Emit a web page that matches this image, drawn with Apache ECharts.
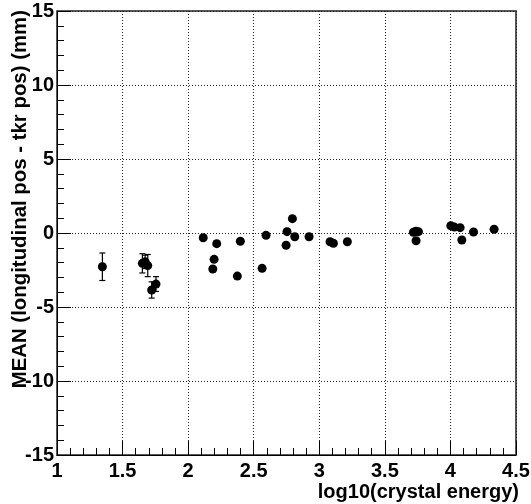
<!DOCTYPE html>
<html>
<head>
<meta charset="utf-8">
<script src="https://cdn.jsdelivr.net/npm/echarts@6/dist/echarts.min.js"></script>
<style>html,body{margin:0;padding:0;background:#fff}#c{width:531px;height:504px}</style>
</head>
<body>
<div id="c"></div>
<script>
// log10(crystal energy)
var xs = [1.346, 1.651, 1.672, 1.692, 1.722, 1.755,
          2.115, 2.218, 2.198, 2.188, 2.398, 2.375, 2.594, 2.564,
          2.795, 2.754, 2.813, 2.747, 2.922, 3.082, 3.108, 3.214,
          3.718, 3.736, 3.756, 3.738, 4.003, 4.030, 4.074, 4.087, 4.176, 4.333];
// MEAN (longitudinal pos - tkr pos) (mm)
var ys = [-2.28, -2.05, -1.95, -2.20, -3.85, -3.45,
          -0.32, -0.72, -1.78, -2.43, -0.56, -2.91, -0.16, -2.39,
          0.97, 0.09, -0.25, -0.83, -0.25, -0.59, -0.70, -0.59,
          0.05, 0.12, 0.09, -0.52, 0.49, 0.40, 0.36, -0.47, 0.07, 0.25];
// error on the mean (mm)
var errs = [0.93, 0.65, 0.45, 0.75, 0.55, 0.50,
            0.15, 0.15, 0.15, 0.15, 0.15, 0.15, 0.15, 0.15,
            0.15, 0.15, 0.15, 0.15, 0.15, 0.15, 0.15, 0.15,
            0.12, 0.12, 0.12, 0.12, 0.12, 0.12, 0.12, 0.12, 0.12, 0.12];
var xTickLabels = ['1', '1.5', '2', '2.5', '3', '3.5', '4', '4.5'];
var yTickLabels = ['-15', '-10', '-5', '0', '5', '10', '15'];
var xTitle = 'log10(crystal energy)';
var yTitle = 'MEAN (longitudinal pos - tkr pos) (mm)';

var points = xs.map(function (x, i) { return [x, ys[i]]; });
var errData = xs.map(function (x, i) { return [x, ys[i] - errs[i], ys[i] + errs[i]]; });

var FONT = '"Liberation Sans", Arial, sans-serif';
var chart = echarts.init(document.getElementById('c'), null, {renderer: 'canvas'});
var grid = {left: 57, right: 15, top: 11, bottom: 49, show: true,
            borderColor: '#222', borderWidth: 1.5, backgroundColor: '#fff',
            containLabel: false, outerBoundsMode: 'none'};
var dotted = {show: true, lineStyle: {color: '#222', width: 1, type: [1, 2]}};
chart.setOption({
  animation: false,
  grid: grid,
  xAxis: {
    type: 'value', min: 1, max: 4.5, interval: 0.5,
    axisLine: {show: true, onZero: false, lineStyle: {color: '#000', width: 1}},
    axisTick: {show: true, inside: true, length: 14, lineStyle: {color: '#000'}},
    minorTick: {show: true, splitNumber: 5, length: 7, lineStyle: {color: '#000'}},
    splitLine: dotted,
    axisLabel: {margin: 6, fontFamily: FONT, fontWeight: 'bold', fontSize: 20, color: '#000',
      formatter: function (v) { var i = Math.round((v - 1) / 0.5); return xTickLabels[i] || ''; }}
  },
  yAxis: {
    type: 'value', min: -15, max: 15, interval: 5,
    axisLine: {show: true, onZero: false, lineStyle: {color: '#000', width: 1}},
    axisTick: {show: true, inside: true, length: 14, lineStyle: {color: '#000'}},
    minorTick: {show: true, splitNumber: 5, length: 7, lineStyle: {color: '#000'}},
    splitLine: dotted,
    axisLabel: {margin: 3, fontFamily: FONT, fontWeight: 'bold', fontSize: 20, color: '#000',
      formatter: function (v) { var i = Math.round((v + 15) / 5); return yTickLabels[i] || ''; }}
  },
  graphic: [
    {type: 'text', x: 519, y: 492, z: 10,
     style: {text: xTitle, font: 'bold 20px ' + FONT, fill: '#000',
             textAlign: 'right', textVerticalAlign: 'middle'}},
    {type: 'text', x: 20, y: 10, rotation: Math.PI / 2, z: 10,
     style: {text: yTitle, font: 'bold 20.4px ' + FONT, fill: '#000',
             textAlign: 'right', textVerticalAlign: 'middle'}}
  ],
  series: [
    {
      type: 'custom', data: errData, z: 3,
      renderItem: function (params, api) {
        var x = api.value(0);
        var lo = api.coord([x, api.value(1)]);
        var hi = api.coord([x, api.value(2)]);
        var cw = 3;
        var st = {stroke: '#000', lineWidth: 1.2};
        return {type: 'group', children: [
          {type: 'line', shape: {x1: lo[0], y1: lo[1], x2: hi[0], y2: hi[1]}, style: st},
          {type: 'line', shape: {x1: lo[0] - cw, y1: lo[1], x2: lo[0] + cw, y2: lo[1]}, style: st},
          {type: 'line', shape: {x1: hi[0] - cw, y1: hi[1], x2: hi[0] + cw, y2: hi[1]}, style: st}
        ]};
      }
    },
    {
      type: 'scatter', data: points, symbol: 'circle', symbolSize: 9, z: 4,
      itemStyle: {color: '#000', opacity: 1}
    }
  ]
});
</script>
</body>
</html>
